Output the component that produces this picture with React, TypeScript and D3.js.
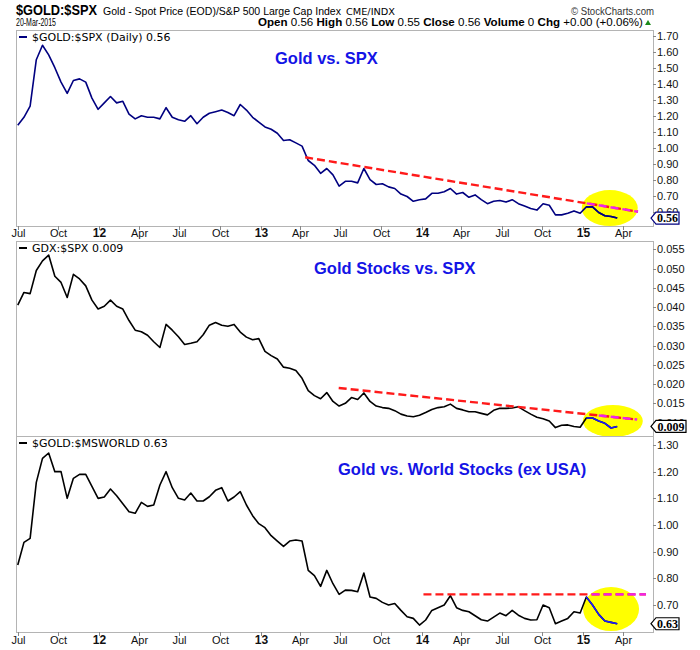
import React from "react";
import * as d3 from "d3";

// ---------- data (biweekly samples, 2011-07-01 .. 2015-03-20) ----------
const sampleStart = new Date(2011, 6, 1);
const sampleDates = d3.range(98).map((i) => d3.timeDay.offset(sampleStart, 14 * i));

const goldSpx = [
  1.14, 1.19, 1.26, 1.55, 1.64, 1.58, 1.5, 1.41, 1.34, 1.42,
  1.43, 1.41, 1.31, 1.24, 1.28, 1.32, 1.28, 1.29, 1.21, 1.18,
  1.2, 1.19, 1.19, 1.18, 1.25, 1.19, 1.175, 1.165, 1.2, 1.15,
  1.19, 1.215, 1.225, 1.235, 1.22, 1.2, 1.27, 1.235, 1.19, 1.16,
  1.13, 1.115, 1.09, 1.045, 1.05, 1.03, 1.01, 0.92, 0.89, 0.84,
  0.87, 0.83, 0.76, 0.79, 0.79, 0.78, 0.87, 0.8, 0.77, 0.775,
  0.755, 0.745, 0.71, 0.695, 0.665, 0.675, 0.68, 0.715, 0.715, 0.725,
  0.745, 0.71, 0.72, 0.69, 0.705, 0.675, 0.65, 0.665, 0.67, 0.66,
  0.675, 0.65, 0.635, 0.62, 0.61, 0.65, 0.64, 0.58, 0.58, 0.59,
  0.605, 0.59, 0.63, 0.63, 0.595, 0.575, 0.57, 0.56,
];

const gdxSpx = [
  0.0405, 0.0438, 0.0435, 0.0495, 0.052, 0.0535, 0.048, 0.0464, 0.0425, 0.0485,
  0.0473, 0.0455, 0.0418, 0.0395, 0.0402, 0.0418, 0.0402, 0.0395, 0.0365, 0.034,
  0.0336, 0.0327, 0.031, 0.0295, 0.0355, 0.034, 0.0323, 0.0303, 0.0306, 0.031,
  0.0328, 0.0353, 0.036, 0.0353, 0.035, 0.0355, 0.0335, 0.0322, 0.0315, 0.0318,
  0.0285, 0.0274, 0.0265, 0.0244, 0.0241, 0.0235, 0.0215, 0.0183, 0.017, 0.0162,
  0.0178, 0.0155, 0.0143, 0.015, 0.0165, 0.016, 0.0177, 0.0155, 0.0143, 0.0139,
  0.0137, 0.0131, 0.0122, 0.0117, 0.0115, 0.0119, 0.0126, 0.0134, 0.0139, 0.0141,
  0.0148, 0.0137, 0.0133, 0.0128, 0.0128, 0.0124, 0.012, 0.0132, 0.0137, 0.0137,
  0.0138, 0.0141, 0.0131, 0.0122, 0.0114, 0.011, 0.0104, 0.0087, 0.0093, 0.0094,
  0.009, 0.0088, 0.0112, 0.0112, 0.0104, 0.0098, 0.0086, 0.009,
];

const goldMsworld = [
  0.85, 0.935, 0.95, 1.16, 1.25, 1.27, 1.2, 1.2, 1.1, 1.175,
  1.19, 1.19, 1.145, 1.1, 1.105, 1.135, 1.11, 1.08, 1.05, 1.044,
  1.085, 1.07, 1.075, 1.15, 1.2, 1.14, 1.1, 1.094, 1.12, 1.09,
  1.09, 1.106, 1.13, 1.14, 1.09, 1.105, 1.125, 1.075, 1.035, 1.005,
  0.99, 0.96, 0.94, 0.92, 0.94, 0.944, 0.94, 0.83, 0.81, 0.77,
  0.83, 0.78, 0.74, 0.756, 0.755, 0.75, 0.82, 0.73, 0.725, 0.71,
  0.7, 0.706, 0.68, 0.656, 0.65, 0.625, 0.644, 0.68, 0.69, 0.7,
  0.735, 0.69, 0.68, 0.675, 0.66, 0.645, 0.64, 0.655, 0.67, 0.66,
  0.68, 0.662, 0.65, 0.644, 0.645, 0.7, 0.69, 0.63, 0.64, 0.65,
  0.675, 0.67, 0.73, 0.7, 0.665, 0.64, 0.635, 0.63,
];

const p1Ticks = [1.7, 1.6, 1.5, 1.4, 1.3, 1.2, 1.1, 1.0, 0.9, 0.8, 0.7, 0.6];
const p2Ticks = [0.055, 0.05, 0.045, 0.04, 0.035, 0.03, 0.025, 0.02, 0.015, 0.01];
const p3Ticks = [1.3, 1.2, 1.1, 1.0, 0.9, 0.8, 0.7];

const xTickDates = [
  "2011-07-01", "2011-10-01", "2012-01-01", "2012-04-01", "2012-07-01", "2012-10-01",
  "2013-01-01", "2013-04-01", "2013-07-01", "2013-10-01", "2014-01-01", "2014-04-01",
  "2014-07-01", "2014-10-01", "2015-01-01", "2015-04-01",
];
const xTickLabels = ["Jul", "Oct", "12", "Apr", "Jul", "Oct", "13", "Apr", "Jul", "Oct", "14", "Apr", "Jul", "Oct", "15", "Apr"];

// annotation lines [date, value]
const trend1: [string, number][] = [["2013-04-12", 0.94], ["2015-05-06", 0.6]];
const trend2: [string, number][] = [["2013-06-27", 0.019], ["2015-05-04", 0.0108]];
const trend3: [string, number][] = [["2014-01-05", 0.74], ["2015-05-24", 0.74]];
const magentaStarts = ["2015-01-10", "2015-02-06", "2015-01-21"];
const circleCenters: [string, number][] = [["2015-03-03", 0.623], ["2015-03-10", 0.0104], ["2015-03-06", 0.685]];
const highlightFrom = "2014-12-27";

const parseD = (s: string) => {
  const [y, m, d] = s.split("-").map(Number);
  return new Date(y, m - 1, d);
};

const LEFT = 16;
const RIGHT = 653;
const x = d3.scaleTime().domain([new Date(2011, 5, 27), new Date(2015, 5, 9)]).range([LEFT, RIGHT]);

type Panel = {
  top: number;
  bottom: number;
  domain: [number, number];
  values: number[];
  ticks: number[];
  fmt: (v: number) => string;
  legend: string;
  lineColor: string;
  hiColor: string;
  title: string;
  titleX: number;
  titleY: number;
  trend: [string, number][];
  magentaStart: string;
  circle: [string, number];
  rx: number;
  ry: number;
  last: string;
  tagW: number;
};

const panels: Panel[] = [
  {
    top: 30, bottom: 226, domain: [0.5106, 1.7356], values: goldSpx, ticks: p1Ticks,
    fmt: d3.format(".2f"), legend: "$GOLD:$SPX (Daily) 0.56", lineColor: "#000080", hiColor: "#000080",
    title: "Gold vs. SPX", titleX: 275, titleY: 64, trend: trend1, magentaStart: magentaStarts[0],
    circle: circleCenters[0], rx: 28, ry: 18, last: "0.56", tagW: 23,
  },
  {
    top: 241, bottom: 436, domain: [0.00652, 0.05716], values: gdxSpx, ticks: p2Ticks,
    fmt: d3.format(".3f"), legend: "GDX:$SPX 0.009", lineColor: "#000000", hiColor: "#1a1aff",
    title: "Gold Stocks vs. SPX", titleX: 314, titleY: 274, trend: trend2, magentaStart: magentaStarts[1],
    circle: circleCenters[1], rx: 30, ry: 16, last: "0.009", tagW: 30,
  },
  {
    top: 436, bottom: 632, domain: [0.599, 1.3337], values: goldMsworld, ticks: p3Ticks,
    fmt: d3.format(".2f"), legend: "$GOLD:$MSWORLD 0.63", lineColor: "#000000", hiColor: "#1a1aff",
    title: "Gold vs. World Stocks (ex USA)", titleX: 338, titleY: 475, trend: trend3, magentaStart: magentaStarts[2],
    circle: circleCenters[2], rx: 28, ry: 22, last: "0.63", tagW: 23,
  },
];

const SANS = "'Liberation Sans', Arial, sans-serif";
const NARROW = "'Liberation Sans Narrow', 'Arial Narrow', 'Liberation Sans', Arial, sans-serif";
const BORDER = "#b4b4b4";

function PanelView({ p }: { p: Panel }) {
  const y = d3.scaleLinear().domain(p.domain).range([p.bottom, p.top]);
  const pts = sampleDates.map((d, i) => ({ d, v: p.values[i] }));
  const line = d3.line<{ d: Date; v: number }>().x((q) => x(q.d)).y((q) => y(q.v));
  const hiStart = parseD(highlightFrom);
  const hiPts = pts.filter((q) => q.d >= hiStart);
  const t0d = parseD(p.trend[0][0]);
  const t1d = parseD(p.trend[1][0]);
  const tInterp = d3.scaleTime().domain([t0d, t1d]).range([p.trend[0][1], p.trend[1][1]]);
  const mStart = parseD(p.magentaStart);
  const lastY = y(p.values[p.values.length - 1]);
  const tagX = RIGHT - 2;
  const tagPath = `M${tagX},${lastY} L${tagX + 5},${lastY - 6} L${tagX + 5 + p.tagW},${lastY - 6} L${tagX + 5 + p.tagW},${lastY + 6} L${tagX + 5},${lastY + 6} Z`;
  return (
    <g>
      <rect x={LEFT + 0.5} y={p.top + 0.5} width={RIGHT - LEFT} height={p.bottom - p.top} fill="#fff" stroke={BORDER} />
      {p.ticks.map((t) => (
        <g key={t}>
          <line x1={RIGHT} x2={RIGHT + 3} y1={Math.round(y(t)) + 0.5} y2={Math.round(y(t)) + 0.5} stroke="#888" />
          <text x={RIGHT + 4} y={y(t)} dy="0.36em" fontSize={11} fontFamily={SANS} fill="#111">
            {p.fmt(t)}
          </text>
        </g>
      ))}
      <ellipse cx={x(parseD(p.circle[0]))} cy={y(p.circle[1])} rx={p.rx} ry={p.ry} fill="#ffff00" />
      <path d={line(pts) || ""} fill="none" stroke={p.lineColor} strokeWidth={1.6} strokeLinejoin="round" />
      <line x1={x(t0d)} y1={y(p.trend[0][1])} x2={x(t1d)} y2={y(p.trend[1][1])} stroke="#ff1a1a" strokeWidth={2.4} strokeDasharray="8,4" />
      <line x1={x(mStart)} y1={y(tInterp(mStart))} x2={x(t1d)} y2={y(p.trend[1][1])} stroke="#ee22ee" strokeWidth={2.4} strokeDasharray="8,4" />
      <path d={line(hiPts) || ""} fill="none" stroke={p.hiColor} strokeWidth={1.6} strokeLinejoin="round" />
      <line x1={19} x2={27} y1={p.top + 7} y2={p.top + 7} stroke={p.lineColor} strokeWidth={2} />
      <text x={32} y={p.top + 11} fontSize={11} fontFamily="'DejaVu Sans', Verdana, sans-serif" fill="#000">
        {p.legend}
      </text>
      <text x={p.titleX} y={p.titleY} fontSize={16.5} fontWeight="bold" fontFamily={SANS} fill="#1414e6">
        {p.title}
      </text>
      <path d={tagPath} fill="#fff" stroke={p.lineColor} strokeWidth={1.2} />
      <text x={tagX + 5 + p.tagW / 2} y={lastY} dy="0.36em" textAnchor="middle" fontSize={12} fontWeight="bold" fontFamily="'Liberation Serif', 'Times New Roman', serif" fill="#000">
        {p.last}
      </text>
    </g>
  );
}

function DateAxis({ y0, labelY }: { y0: number; labelY: number }) {
  return (
    <g>
      {xTickDates.map((s, i) => {
        const xx = Math.round(x(parseD(s))) + 0.5;
        const isYear = /^\d+$/.test(xTickLabels[i]);
        return (
          <g key={s}>
            <line x1={xx} x2={xx} y1={y0} y2={y0 + 4} stroke="#888" />
            <text x={xx} y={labelY} textAnchor="middle" fontSize={isYear ? 12 : 11} fontWeight={isYear ? "bold" : "normal"} fontFamily={SANS} fill="#111">
              {xTickLabels[i]}
            </text>
          </g>
        );
      })}
    </g>
  );
}

export default function App() {
  return (
    <svg width={700} height={650} style={{ position: "absolute", left: 0, top: 0, background: "#fff" }}>
      <rect x={0} y={0} width={700} height={650} fill="#fff" />
      <text x={16} y={15} fontSize={15} fontWeight="bold" fontFamily={NARROW} textLength={81} lengthAdjust="spacingAndGlyphs">$GOLD:$SPX</text>
      <text x={103} y={15} fontSize={11.5} fontFamily={NARROW} textLength={238} lengthAdjust="spacingAndGlyphs">Gold - Spot Price (EOD)/S&amp;P 500 Large Cap Index</text>
      <text x={346} y={15} fontSize={9.5} fontFamily="'DejaVu Sans', sans-serif" textLength={49} lengthAdjust="spacingAndGlyphs">CME/INDX</text>
      <text x={571} y={15} fontSize={11} fontFamily={SANS} fill="#333" textLength={83} lengthAdjust="spacingAndGlyphs">© StockCharts.com</text>
      <text x={16} y={26} fontSize={11} fontFamily={NARROW} textLength={40} lengthAdjust="spacingAndGlyphs">20-Mar-2015</text>
      <text x={258} y={26} fontSize={11.5} fontFamily={NARROW} textLength={385} lengthAdjust="spacingAndGlyphs">
        <tspan fontWeight="bold">Open</tspan> 0.56 <tspan fontWeight="bold">High</tspan> 0.56 <tspan fontWeight="bold">Low</tspan> 0.55{" "}
        <tspan fontWeight="bold">Close</tspan> 0.56 <tspan fontWeight="bold">Volume</tspan> 0 <tspan fontWeight="bold">Chg</tspan> +0.00 (+0.06%)
      </text>
      <path d="M645,25 L648,20 L651,25 Z" fill="#1a8a1a" />
      {panels.map((p, i) => (
        <PanelView key={i} p={p} />
      ))}
      <DateAxis y0={226} labelY={237} />
      <DateAxis y0={632} labelY={644} />
    </svg>
  );
}
